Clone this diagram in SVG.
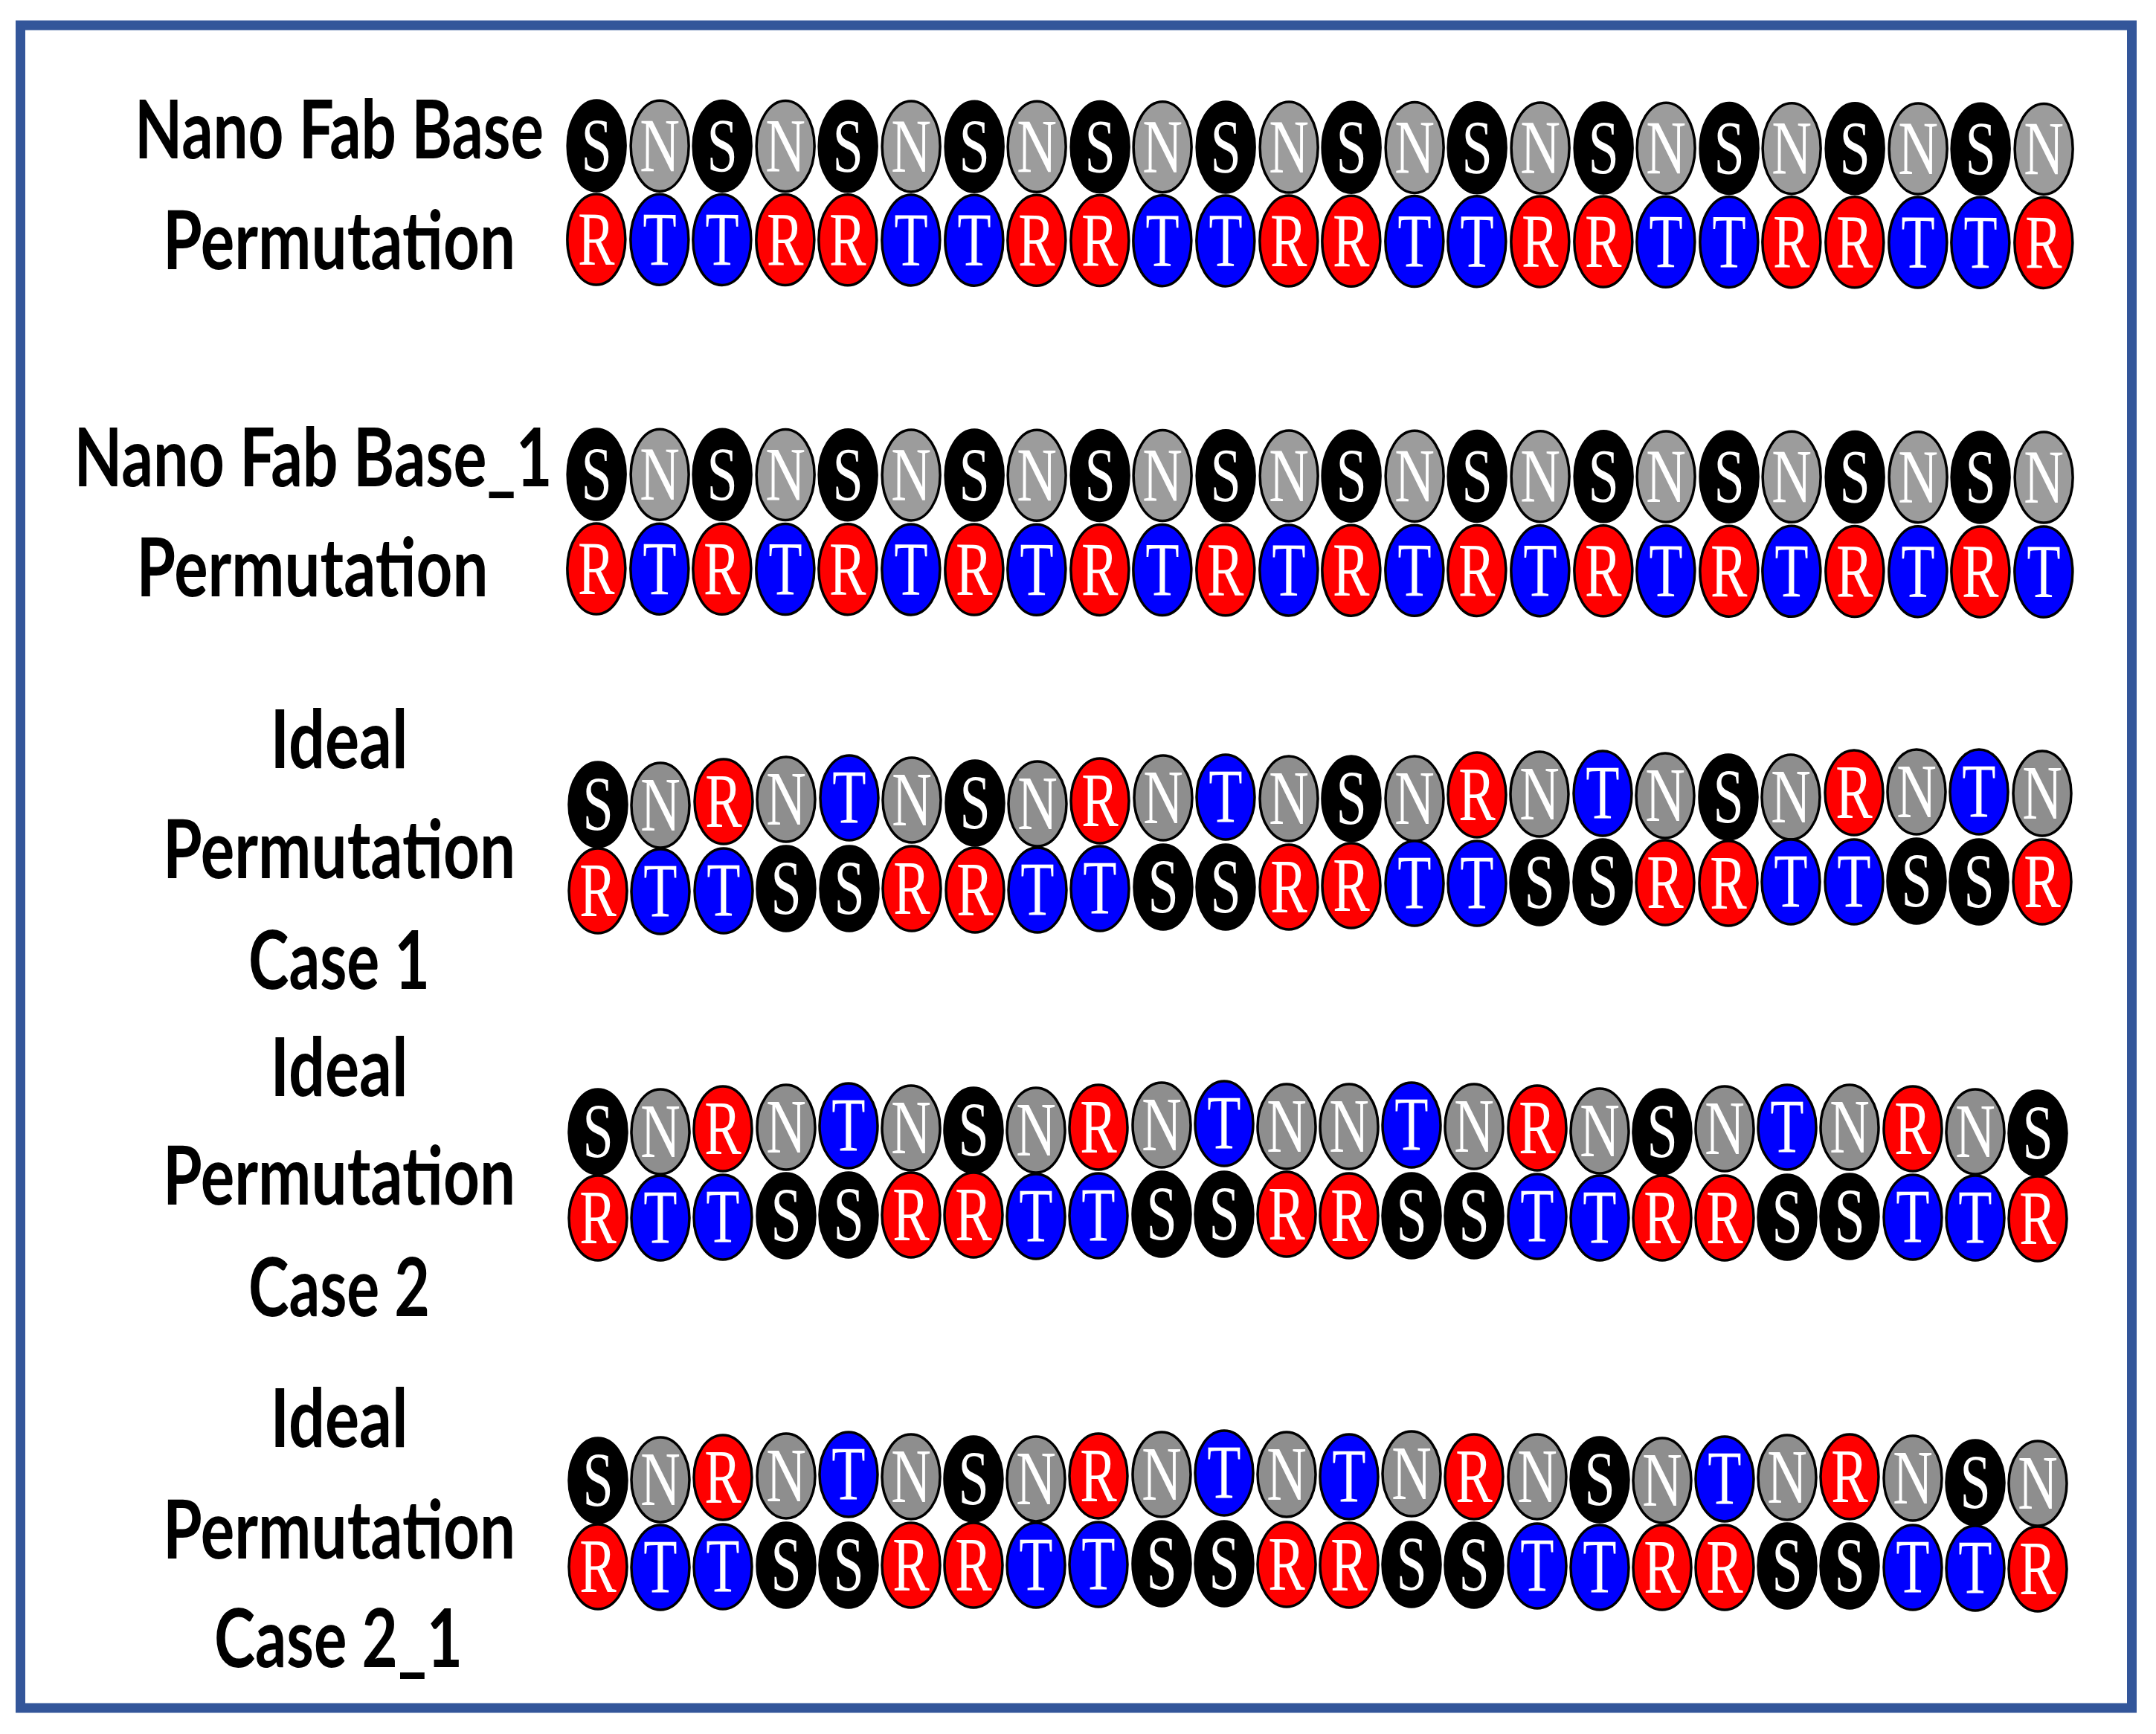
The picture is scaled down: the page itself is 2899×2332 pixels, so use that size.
<svg xmlns="http://www.w3.org/2000/svg" xmlns:xlink="http://www.w3.org/1999/xlink" width="2899" height="2332" viewBox="0 0 2899 2332">
<style>
.lbl{font-family:Lato,"Liberation Sans",sans-serif;font-weight:700;font-size:109px;fill:#000;text-anchor:middle}
.let{font-family:"Liberation Serif","Times New Roman",serif;font-size:103px;fill:#fff;text-anchor:middle}
.e{stroke:#000;stroke-width:3.5}
</style>
<defs>
<g id="aS"><ellipse class="e" cx="0" cy="0" rx="39" ry="61" fill="#000"/><text class="let" x="0" y="34" transform="scale(0.72,1)">S</text></g>
<g id="aN"><ellipse class="e" cx="0" cy="0" rx="39" ry="61" fill="#9c9c9c"/><text class="let" x="0" y="34" transform="scale(0.72,1)">N</text></g>
<g id="aR"><ellipse class="e" cx="0" cy="0" rx="39" ry="61" fill="#ff0000"/><text class="let" x="0" y="34" transform="scale(0.72,1)">R</text></g>
<g id="aT"><ellipse class="e" cx="0" cy="0" rx="39" ry="61" fill="#0000ff"/><text class="let" x="0" y="34" transform="scale(0.72,1)">T</text></g>
<g id="bS"><ellipse class="e" cx="0" cy="0" rx="39" ry="57" fill="#000"/><text class="let" x="0" y="34" transform="scale(0.72,1)">S</text></g>
<g id="bN"><ellipse class="e" cx="0" cy="0" rx="39" ry="57" fill="#8e8e8e"/><text class="let" x="0" y="34" transform="scale(0.72,1)">N</text></g>
<g id="bR"><ellipse class="e" cx="0" cy="0" rx="39" ry="57" fill="#ff0000"/><text class="let" x="0" y="34" transform="scale(0.72,1)">R</text></g>
<g id="bT"><ellipse class="e" cx="0" cy="0" rx="39" ry="57" fill="#0000ff"/><text class="let" x="0" y="34" transform="scale(0.72,1)">T</text></g>
</defs>
<rect width="2899" height="2332" fill="#fff"/>
<g id="frame"><rect x="27.5" y="34" width="2839" height="2263" fill="none" stroke="#33569a" stroke-width="13"/></g>

<g id="label-row1">
<text class="lbl" x="456" y="213" textLength="550" lengthAdjust="spacingAndGlyphs">Nano Fab Base</text>
<text class="lbl" x="456" y="362" textLength="474" lengthAdjust="spacingAndGlyphs">Permutation</text>
</g>
<g id="label-row2">
<text class="lbl" x="421" y="654" textLength="643" lengthAdjust="spacingAndGlyphs">Nano Fab Base_1</text>
<text class="lbl" x="420" y="802" textLength="473" lengthAdjust="spacingAndGlyphs">Permutation</text>
</g>
<g id="label-row3">
<text class="lbl" x="456" y="1033" textLength="185" lengthAdjust="spacingAndGlyphs">Ideal</text>
<text class="lbl" x="456" y="1181" textLength="474" lengthAdjust="spacingAndGlyphs">Permutation</text>
<text class="lbl" x="456" y="1330" textLength="244" lengthAdjust="spacingAndGlyphs">Case 1</text>
</g>
<g id="label-row4">
<text class="lbl" x="456" y="1474" textLength="185" lengthAdjust="spacingAndGlyphs">Ideal</text>
<text class="lbl" x="456" y="1620" textLength="474" lengthAdjust="spacingAndGlyphs">Permutation</text>
<text class="lbl" x="456" y="1770" textLength="244" lengthAdjust="spacingAndGlyphs">Case 2</text>
</g>
<g id="label-row5">
<text class="lbl" x="456" y="1946" textLength="185" lengthAdjust="spacingAndGlyphs">Ideal</text>
<text class="lbl" x="456" y="2096" textLength="474" lengthAdjust="spacingAndGlyphs">Permutation</text>
<text class="lbl" x="455" y="2242" textLength="334" lengthAdjust="spacingAndGlyphs">Case 2_1</text>
</g>

<g id="row1" transform="rotate(0.13 802 259)">
<use href="#aS" x="802" y="196"/><use href="#aN" x="887" y="196"/><use href="#aS" x="971" y="196"/><use href="#aN" x="1056" y="196"/><use href="#aS" x="1140" y="196"/><use href="#aN" x="1225" y="196"/><use href="#aS" x="1310" y="196"/><use href="#aN" x="1394" y="196"/><use href="#aS" x="1479" y="196"/><use href="#aN" x="1563" y="196"/><use href="#aS" x="1648" y="196"/><use href="#aN" x="1733" y="196"/><use href="#aS" x="1817" y="196"/><use href="#aN" x="1902" y="196"/><use href="#aS" x="1986" y="196"/><use href="#aN" x="2071" y="196"/><use href="#aS" x="2156" y="196"/><use href="#aN" x="2240" y="196"/><use href="#aS" x="2325" y="196"/><use href="#aN" x="2409" y="196"/><use href="#aS" x="2494" y="196"/><use href="#aN" x="2579" y="196"/><use href="#aS" x="2663" y="196"/><use href="#aN" x="2748" y="196"/>
<use href="#aR" x="802" y="322"/><use href="#aT" x="887" y="322"/><use href="#aT" x="971" y="322"/><use href="#aR" x="1056" y="322"/><use href="#aR" x="1140" y="322"/><use href="#aT" x="1225" y="322"/><use href="#aT" x="1310" y="322"/><use href="#aR" x="1394" y="322"/><use href="#aR" x="1479" y="322"/><use href="#aT" x="1563" y="322"/><use href="#aT" x="1648" y="322"/><use href="#aR" x="1733" y="322"/><use href="#aR" x="1817" y="322"/><use href="#aT" x="1902" y="322"/><use href="#aT" x="1986" y="322"/><use href="#aR" x="2071" y="322"/><use href="#aR" x="2156" y="322"/><use href="#aT" x="2240" y="322"/><use href="#aT" x="2325" y="322"/><use href="#aR" x="2409" y="322"/><use href="#aR" x="2494" y="322"/><use href="#aT" x="2579" y="322"/><use href="#aT" x="2663" y="322"/><use href="#aR" x="2748" y="322"/>
</g>

<g id="row2" transform="rotate(0.12 802 701)">
<use href="#aS" x="802" y="638"/><use href="#aN" x="887" y="638"/><use href="#aS" x="971" y="638"/><use href="#aN" x="1056" y="638"/><use href="#aS" x="1140" y="638"/><use href="#aN" x="1225" y="638"/><use href="#aS" x="1310" y="638"/><use href="#aN" x="1394" y="638"/><use href="#aS" x="1479" y="638"/><use href="#aN" x="1563" y="638"/><use href="#aS" x="1648" y="638"/><use href="#aN" x="1733" y="638"/><use href="#aS" x="1817" y="638"/><use href="#aN" x="1902" y="638"/><use href="#aS" x="1986" y="638"/><use href="#aN" x="2071" y="638"/><use href="#aS" x="2156" y="638"/><use href="#aN" x="2240" y="638"/><use href="#aS" x="2325" y="638"/><use href="#aN" x="2409" y="638"/><use href="#aS" x="2494" y="638"/><use href="#aN" x="2579" y="638"/><use href="#aS" x="2663" y="638"/><use href="#aN" x="2748" y="638"/>
<use href="#aR" x="802" y="765"/><use href="#aT" x="887" y="765"/><use href="#aR" x="971" y="765"/><use href="#aT" x="1056" y="765"/><use href="#aR" x="1140" y="765"/><use href="#aT" x="1225" y="765"/><use href="#aR" x="1310" y="765"/><use href="#aT" x="1394" y="765"/><use href="#aR" x="1479" y="765"/><use href="#aT" x="1563" y="765"/><use href="#aR" x="1648" y="765"/><use href="#aT" x="1733" y="765"/><use href="#aR" x="1817" y="765"/><use href="#aT" x="1902" y="765"/><use href="#aR" x="1986" y="765"/><use href="#aT" x="2071" y="765"/><use href="#aR" x="2156" y="765"/><use href="#aT" x="2240" y="765"/><use href="#aR" x="2325" y="765"/><use href="#aT" x="2409" y="765"/><use href="#aR" x="2494" y="765"/><use href="#aT" x="2579" y="765"/><use href="#aR" x="2663" y="765"/><use href="#aT" x="2748" y="765"/>
</g>

<g id="row3">
<use href="#bS" x="804" y="1082"/><use href="#bN" x="888" y="1083"/><use href="#bR" x="973" y="1078"/><use href="#bN" x="1057" y="1075"/><use href="#bT" x="1142" y="1073"/><use href="#bN" x="1226" y="1076"/><use href="#bS" x="1311" y="1080"/><use href="#bN" x="1395" y="1081"/><use href="#bR" x="1479" y="1077"/><use href="#bN" x="1564" y="1073"/><use href="#bT" x="1648" y="1072"/><use href="#bN" x="1733" y="1074"/><use href="#bS" x="1817" y="1074"/><use href="#bN" x="1902" y="1074"/><use href="#bR" x="1986" y="1069"/><use href="#bN" x="2070" y="1068"/><use href="#bT" x="2155" y="1067"/><use href="#bN" x="2239" y="1070"/><use href="#bS" x="2324" y="1072"/><use href="#bN" x="2408" y="1072"/><use href="#bR" x="2493" y="1066"/><use href="#bN" x="2577" y="1065"/><use href="#bT" x="2661" y="1065"/><use href="#bN" x="2746" y="1067"/>
<use href="#bR" x="804" y="1198"/><use href="#bT" x="888" y="1199"/><use href="#bT" x="973" y="1198"/><use href="#bS" x="1057" y="1195"/><use href="#bS" x="1142" y="1195"/><use href="#bR" x="1226" y="1195"/><use href="#bR" x="1311" y="1197"/><use href="#bT" x="1395" y="1197"/><use href="#bT" x="1479" y="1195"/><use href="#bS" x="1564" y="1193"/><use href="#bS" x="1648" y="1193"/><use href="#bR" x="1733" y="1193"/><use href="#bR" x="1817" y="1191"/><use href="#bT" x="1902" y="1188"/><use href="#bT" x="1986" y="1188"/><use href="#bS" x="2070" y="1187"/><use href="#bS" x="2155" y="1186"/><use href="#bR" x="2239" y="1187"/><use href="#bR" x="2324" y="1188"/><use href="#bT" x="2408" y="1186"/><use href="#bT" x="2493" y="1186"/><use href="#bS" x="2577" y="1185"/><use href="#bS" x="2661" y="1186"/><use href="#bR" x="2746" y="1186"/>
</g>

<g id="row4">
<use href="#bS" x="804" y="1522"/><use href="#bN" x="888" y="1522"/><use href="#bR" x="972" y="1518"/><use href="#bN" x="1057" y="1516"/><use href="#bT" x="1141" y="1514"/><use href="#bN" x="1225" y="1517"/><use href="#bS" x="1309" y="1520"/><use href="#bN" x="1393" y="1520"/><use href="#bR" x="1477" y="1516"/><use href="#bN" x="1562" y="1513"/><use href="#bT" x="1646" y="1511"/><use href="#bN" x="1730" y="1515"/><use href="#bN" x="1814" y="1515"/><use href="#bT" x="1898" y="1513"/><use href="#bN" x="1982" y="1515"/><use href="#bR" x="2067" y="1517"/><use href="#bN" x="2151" y="1521"/><use href="#bS" x="2235" y="1522"/><use href="#bN" x="2319" y="1518"/><use href="#bT" x="2403" y="1516"/><use href="#bN" x="2487" y="1516"/><use href="#bR" x="2572" y="1518"/><use href="#bN" x="2656" y="1522"/><use href="#bS" x="2740" y="1524"/>
<use href="#bR" x="804" y="1638"/><use href="#bT" x="888" y="1638"/><use href="#bT" x="972" y="1637"/><use href="#bS" x="1057" y="1635"/><use href="#bS" x="1141" y="1634"/><use href="#bR" x="1225" y="1634"/><use href="#bR" x="1309" y="1634"/><use href="#bT" x="1393" y="1636"/><use href="#bT" x="1477" y="1635"/><use href="#bS" x="1562" y="1633"/><use href="#bS" x="1646" y="1633"/><use href="#bR" x="1730" y="1633"/><use href="#bR" x="1814" y="1635"/><use href="#bS" x="1898" y="1635"/><use href="#bS" x="1982" y="1635"/><use href="#bT" x="2067" y="1636"/><use href="#bT" x="2151" y="1638"/><use href="#bR" x="2235" y="1638"/><use href="#bR" x="2319" y="1638"/><use href="#bS" x="2403" y="1637"/><use href="#bS" x="2487" y="1636"/><use href="#bT" x="2572" y="1637"/><use href="#bT" x="2656" y="1638"/><use href="#bR" x="2740" y="1639"/>
</g>

<g id="row5">
<use href="#bS" x="804" y="1991"/><use href="#bN" x="888" y="1990"/><use href="#bR" x="972" y="1987"/><use href="#bN" x="1057" y="1985"/><use href="#bT" x="1141" y="1983"/><use href="#bN" x="1225" y="1986"/><use href="#bS" x="1309" y="1989"/><use href="#bN" x="1393" y="1989"/><use href="#bR" x="1477" y="1985"/><use href="#bN" x="1562" y="1983"/><use href="#bT" x="1646" y="1981"/><use href="#bN" x="1730" y="1983"/><use href="#bT" x="1814" y="1986"/><use href="#bN" x="1898" y="1982"/><use href="#bR" x="1982" y="1986"/><use href="#bN" x="2067" y="1986"/><use href="#bS" x="2151" y="1990"/><use href="#bN" x="2235" y="1991"/><use href="#bT" x="2319" y="1989"/><use href="#bN" x="2403" y="1987"/><use href="#bR" x="2487" y="1986"/><use href="#bN" x="2572" y="1988"/><use href="#bS" x="2656" y="1994"/><use href="#bN" x="2740" y="1995"/>
<use href="#bR" x="804" y="2107"/><use href="#bT" x="888" y="2108"/><use href="#bT" x="972" y="2107"/><use href="#bS" x="1057" y="2105"/><use href="#bS" x="1141" y="2105"/><use href="#bR" x="1225" y="2105"/><use href="#bR" x="1309" y="2105"/><use href="#bT" x="1393" y="2105"/><use href="#bT" x="1477" y="2104"/><use href="#bS" x="1562" y="2103"/><use href="#bS" x="1646" y="2103"/><use href="#bR" x="1730" y="2104"/><use href="#bR" x="1814" y="2105"/><use href="#bS" x="1898" y="2104"/><use href="#bS" x="1982" y="2105"/><use href="#bT" x="2067" y="2106"/><use href="#bT" x="2151" y="2108"/><use href="#bR" x="2235" y="2108"/><use href="#bR" x="2319" y="2108"/><use href="#bS" x="2403" y="2106"/><use href="#bS" x="2487" y="2106"/><use href="#bT" x="2572" y="2108"/><use href="#bT" x="2656" y="2109"/><use href="#bR" x="2740" y="2110"/>
</g>
</svg>
